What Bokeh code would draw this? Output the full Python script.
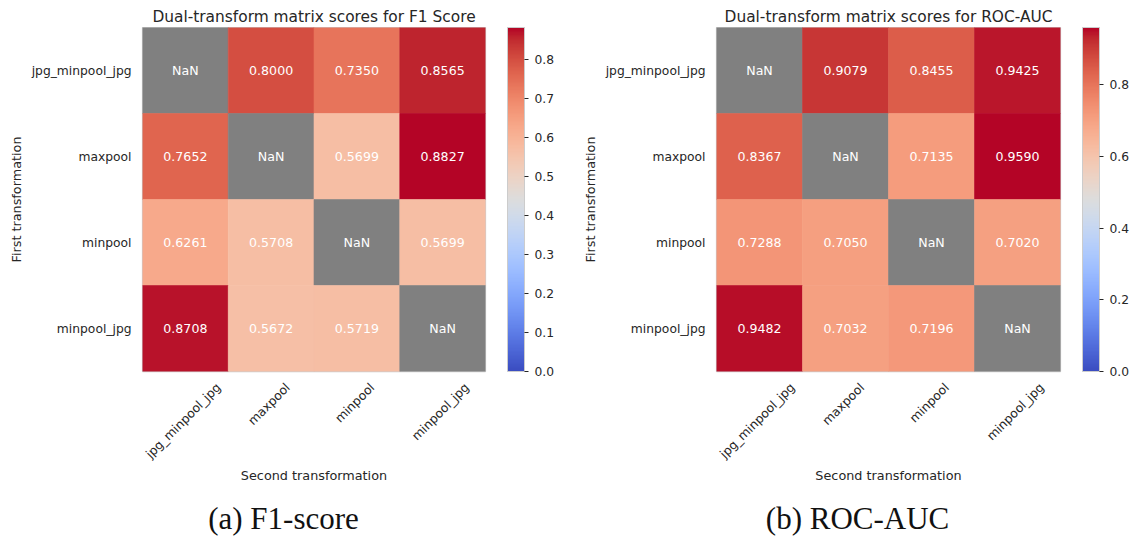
import math
import numpy as np
from bokeh.plotting import figure
from bokeh.models import (ColumnDataSource, LinearColorMapper, ColorBar, Title,
                          FixedTicker, PrintfTickFormatter, FactorRange, Range1d)
from bokeh.layouts import row
from bokeh.embed import file_html
from bokeh.resources import INLINE
from bokeh.core.properties import value

# ---------------- data ----------------
second_transforms = ["jpg_minpool_jpg", "maxpool", "minpool", "minpool_jpg"]
first_transforms = ["jpg_minpool_jpg", "maxpool", "minpool", "minpool_jpg"]
nan = float("nan")
f1_scores = [
    [nan, 0.8000, 0.7350, 0.8565],
    [0.7652, nan, 0.5699, 0.8827],
    [0.6261, 0.5708, nan, 0.5699],
    [0.8708, 0.5672, 0.5719, nan],
]
roc_auc_scores = [
    [nan, 0.9079, 0.8455, 0.9425],
    [0.8367, nan, 0.7135, 0.9590],
    [0.7288, 0.7050, nan, 0.7020],
    [0.9482, 0.7032, 0.7196, nan],
]
f1_cbar_ticks = [0.0, 0.1, 0.2, 0.3, 0.4, 0.5, 0.6, 0.7, 0.8]
roc_cbar_ticks = [0.0, 0.2, 0.4, 0.6, 0.8]
titles = ["Dual-transform matrix scores for F1 Score", "Dual-transform matrix scores for ROC-AUC"]
captions = ["(a) F1-score", "(b) ROC-AUC"]

# ---------------- coolwarm colormap ----------------
_cw_r = [0.2298057, 0.26623388, 0.30386891, 0.342804478, 0.38301334, 0.424369608, 0.46666708,
         0.509635204, 0.552953156, 0.596262162, 0.639176211, 0.681291281, 0.722193294, 0.761464949,
         0.798691636, 0.833466556, 0.865395197, 0.897787179, 0.924127593, 0.944468518, 0.958852946,
         0.96732803, 0.969954137, 0.966811177, 0.958003065, 0.943660866, 0.923944917, 0.89904617,
         0.869186849, 0.834620542, 0.795631745, 0.752534934, 0.705673158]
_cw_g = [0.298717966, 0.353094838, 0.406535296, 0.458757618, 0.50941904, 0.558148092, 0.604562568,
         0.648280772, 0.688929332, 0.726149107, 0.759599947, 0.788964712, 0.813952739, 0.834302879,
         0.849786142, 0.860207984, 0.86541021, 0.848937047, 0.827384882, 0.800927443, 0.769767752,
         0.734132809, 0.694266682, 0.650421156, 0.602842431, 0.551750968, 0.49730856, 0.439559467,
         0.378313092, 0.312874446, 0.24128379, 0.157246067, 0.01555616]
_cw_b = [0.753683153, 0.801466763, 0.84495867, 0.883725899, 0.917387822, 0.945619588, 0.968154911,
         0.98478814, 0.995375608, 0.999836203, 0.998151185, 0.990363227, 0.976574709, 0.956945269,
         0.931688648, 0.901068838, 0.865395561, 0.820880546, 0.774508472, 0.726736146, 0.678007945,
         0.628751763, 0.579375448, 0.530263762, 0.481775914, 0.434243684, 0.387970225, 0.343229596,
         0.300267182, 0.259301199, 0.220525627, 0.184115123, 0.150232812]
_pos = np.linspace(0, 1, len(_cw_r))
_t = np.linspace(0, 1, 256)
COOLWARM = ["#%02x%02x%02x" % (int(round(r * 255)), int(round(g * 255)), int(round(b * 255)))
            for r, g, b in zip(np.interp(_t, _pos, _cw_r), np.interp(_t, _pos, _cw_g), np.interp(_t, _pos, _cw_b))]

# ---------------- style ----------------
TXT = "#262626"
FONT = "DejaVu Sans"
TICK_SIZE = 12.3
LABEL_SIZE = 12.8
TITLE_SIZE = 15.4
ANNOT_SIZE = 12.6
CAP_SIZE = 31
H = 540
TOP = 27
FRAME_H = 344
CAP_CENTER = 141  # caption centre, px right of the heatmap's left edge

# DejaVu Sans advance widths (em), used to centre the rotated tick labels under their columns
_cw = {"j": 0.278, "p": 0.635, "g": 0.635, "_": 0.5, "m": 0.974, "i": 0.278, "n": 0.634,
       "o": 0.612, "l": 0.278, "a": 0.613, "x": 0.592}
# Liberation Serif advance widths (em), used to place the captions
_sw = {"(": 0.333, ")": 0.333, "a": 0.444, "b": 0.5, " ": 0.25, "F": 0.556, "1": 0.5, "-": 0.333,
       "s": 0.389, "c": 0.444, "o": 0.5, "r": 0.333, "e": 0.444, "R": 0.667, "O": 0.722,
       "C": 0.667, "A": 0.722, "U": 0.722}


def text_width(s, size, table):
    return sum(table.get(ch, 0.6) for ch in s) * size


def panel(scores, title, caption, cbar_ticks, width, left_border, frame_w):
    n = len(second_transforms)
    cols, rows_, vals, texts = [], [], [], []
    for i, rname in enumerate(first_transforms):
        for j, cname in enumerate(second_transforms):
            v = scores[i][j]
            cols.append(j + 0.5)
            rows_.append(rname)
            vals.append(v)
            texts.append("NaN" if math.isnan(v) else f"{v:.4f}")
    src = ColumnDataSource(dict(c=cols, r=rows_, v=np.array(vals, dtype=float), t=texts))
    vmax = float(np.nanmax(np.array(scores, dtype=float)))
    mapper = LinearColorMapper(palette=COOLWARM, low=0.0, high=vmax, nan_color="#808080")

    p = figure(x_range=Range1d(0, n),
               y_range=FactorRange(*reversed(first_transforms)),
               frame_width=frame_w, frame_height=FRAME_H,
               min_border_left=left_border, min_border_right=width - left_border - frame_w,
               min_border_top=TOP, min_border_bottom=H - TOP - FRAME_H,
               output_backend="svg", toolbar_location=None)
    p.background_fill_color = "white"
    p.border_fill_color = "white"
    p.outline_line_color = "#cccccc"
    p.outline_line_width = 1.25
    p.grid.visible = False

    p.title.text = title
    p.title.align = "center"
    p.title.text_font = FONT
    p.title.text_font_size = f"{TITLE_SIZE}px"
    p.title.text_font_style = "normal"
    p.title.text_color = TXT
    p.title.standoff = 3

    p.rect(x="c", y="r", width=1, height=1, source=src,
           fill_color={"field": "v", "transform": mapper},
           line_color={"field": "v", "transform": mapper}, line_width=0.6)
    p.text(x="c", y="r", text="t", source=src, text_align="center", text_baseline="middle",
           text_color="white", text_font=value(FONT), text_font_size=f"{ANNOT_SIZE}px")

    # y axis
    ya = p.yaxis[0]
    ya.axis_line_color = None
    ya.major_tick_line_color = None
    ya.minor_tick_line_color = None
    ya.major_tick_out = 0
    ya.major_tick_in = 0
    ya.major_label_standoff = 11
    ya.major_label_text_font = FONT
    ya.major_label_text_font_size = f"{TICK_SIZE}px"
    ya.major_label_text_color = TXT
    ya.axis_label = "First transformation"
    ya.axis_label_text_font = FONT
    ya.axis_label_text_font_size = f"{LABEL_SIZE}px"
    ya.axis_label_text_font_style = "normal"
    ya.axis_label_text_color = TXT
    ya.axis_label_standoff = 5

    # x axis: rotated labels whose rotated box is centred under each column
    px_per_unit = frame_w / n
    ticks = [j + 0.5 + (text_width(name, TICK_SIZE, _cw) * 0.3536 - 2) / px_per_unit
             for j, name in enumerate(second_transforms)]
    xa = p.xaxis[0]
    xa.ticker = FixedTicker(ticks=ticks)
    xa.major_label_overrides = {t: name for t, name in zip(ticks, second_transforms)}
    xa.major_label_orientation = math.pi / 4
    xa.axis_line_color = None
    xa.major_tick_line_color = None
    xa.minor_tick_line_color = None
    xa.major_tick_out = 0
    xa.major_tick_in = 0
    xa.major_label_standoff = 14
    xa.major_label_text_font = FONT
    xa.major_label_text_font_size = f"{TICK_SIZE}px"
    xa.major_label_text_color = TXT
    xa.axis_label = "Second transformation"
    xa.axis_label_text_font = FONT
    xa.axis_label_text_font_size = f"{LABEL_SIZE}px"
    xa.axis_label_text_font_style = "normal"
    xa.axis_label_text_color = TXT
    xa.axis_label_standoff = -1

    # caption under the sub-figure
    cap_off = CAP_CENTER - text_width(caption, CAP_SIZE, _sw) / 2
    cap = Title(text=caption, align="left", offset=cap_off, text_font="Liberation Serif",
                text_font_size=f"{CAP_SIZE}px", text_font_style="normal", text_color="#111111",
                standoff=27)
    p.add_layout(cap, "below")

    cb = ColorBar(color_mapper=mapper, width=17, height=FRAME_H, padding=0, margin=0, location=(22, 0),
                  ticker=FixedTicker(ticks=cbar_ticks), formatter=PrintfTickFormatter(format="%.1f"),
                  major_label_text_font=FONT, major_label_text_font_size=f"{TICK_SIZE}px",
                  major_label_text_color=TXT, major_tick_in=0, major_tick_out=4,
                  major_tick_line_color=TXT, minor_tick_line_color=None, label_standoff=6,
                  bar_line_color="#cccccc", bar_line_width=1,
                  background_fill_alpha=0, border_line_color=None)
    p.add_layout(cb, "right")
    return p


p1 = panel(f1_scores, titles[0], captions[0], f1_cbar_ticks, 575, 142, 343)
p2 = panel(roc_auc_scores, titles[1], captions[1], roc_cbar_ticks, 559, 141, 344)
layout = row(p1, p2)

open("out.html", "w").write(file_html(layout, INLINE))
